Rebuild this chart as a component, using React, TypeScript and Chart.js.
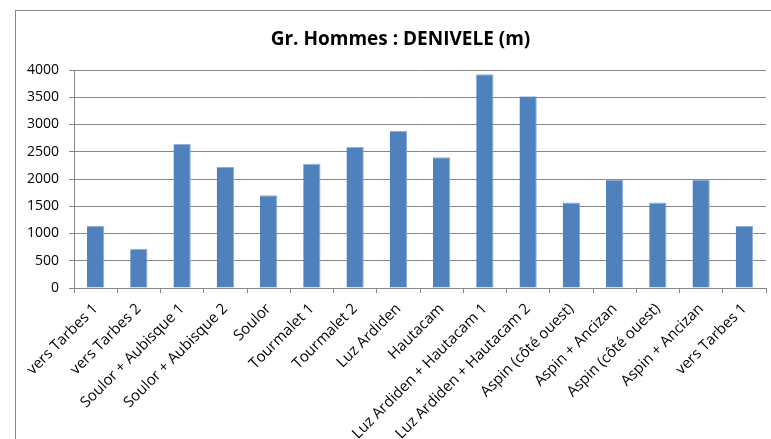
import React, { useEffect, useRef } from "react";
import { Chart, registerables } from "chart.js";

Chart.register(...registerables);

const categories = [
  "vers Tarbes 1",
  "vers Tarbes 2",
  "Soulor + Aubisque 1",
  "Soulor + Aubisque 2",
  "Soulor",
  "Tourmalet 1",
  "Tourmalet 2",
  "Luz Ardiden",
  "Hautacam",
  "Luz Ardiden + Hautacam 1",
  "Luz Ardiden + Hautacam 2",
  "Aspin (côté ouest)",
  "Aspin + Ancizan",
  "Aspin (côté ouest)",
  "Aspin + Ancizan",
  "vers Tarbes 1",
];

const denivele = [1140, 720, 2640, 2220, 1700, 2280, 2590, 2880, 2400, 3920, 3520, 1570, 1990, 1570, 1990, 1140];

const titleText = "Gr. Hommes : DENIVELE (m)";
const yMin = 0;
const yMax = 4000;
const yStep = 500;

const centeredTitle = {
  id: "centeredTitle",
  afterDraw(chart: any) {
    const ctx = chart.ctx;
    ctx.save();
    ctx.font = "bold 19px 'Open Sans', sans-serif";
    ctx.fillStyle = "#000000";
    ctx.textAlign = "center";
    ctx.textBaseline = "middle";
    ctx.fillText(titleText, chart.width / 2 + 15, 40);
    ctx.restore();
  },
};

export default function App() {
  const ref = useRef<HTMLCanvasElement | null>(null);

  useEffect(() => {
    if (!ref.current) return;
    const chart = new Chart(ref.current, {
      type: "bar",
      data: {
        labels: categories,
        datasets: [
          {
            label: "DENIVELE",
            data: denivele,
            backgroundColor: "#4F81BD",
            borderColor: "#8FAEDA",
            borderWidth: { top: 1, right: 1, left: 0, bottom: 0 },
            categoryPercentage: 1,
            barPercentage: 0.4,
          },
        ],
      },
      plugins: [centeredTitle],
      options: {
        animation: false,
        responsive: false,
        maintainAspectRatio: false,
        layout: { padding: { left: 20, right: 5, top: 70, bottom: 0 } },
        plugins: {
          legend: { display: false },
          tooltip: { enabled: false },
          title: { display: false },
        },
        scales: {
          x: {
            offset: true,
            afterFit: (scale: any) => {
              scale.height = 151;
            },
            grid: {
              display: true,
              offset: true,
              drawOnChartArea: false,
              drawTicks: true,
              tickLength: 5,
              color: "#868686",
            },
            border: { display: true, color: "#868686" },
            ticks: {
              color: "#000000",
              font: { family: "'Open Sans', sans-serif", size: 15 },
              maxRotation: 45,
              minRotation: 45,
              autoSkip: false,
              padding: 7,
            },
          },
          y: {
            min: yMin,
            max: yMax,
            afterFit: (scale: any) => {
              scale.width = 54;
            },
            grid: {
              color: "#868686",
              lineWidth: 1,
              tickLength: 5,
            },
            border: { display: true, color: "#868686" },
            ticks: {
              stepSize: yStep,
              color: "#000000",
              font: { family: "'Open Sans', sans-serif", size: 14 },
              padding: 10,
              callback: (v: any) => String(v),
            },
          },
        },
      },
    });
    return () => chart.destroy();
  }, []);

  return (
    <div style={{ position: "fixed", left: 0, top: 0, width: 771, height: 439, background: "#ffffff", overflow: "hidden" }}>
      <div
        style={{
          position: "absolute",
          left: 15,
          top: 10,
          width: 800,
          height: 500,
          border: "1px solid #868686",
          boxSizing: "border-box",
        }}
      />
      <canvas ref={ref} width={771} height={439} style={{ position: "absolute", left: 0, top: 0 }} />
    </div>
  );
}
